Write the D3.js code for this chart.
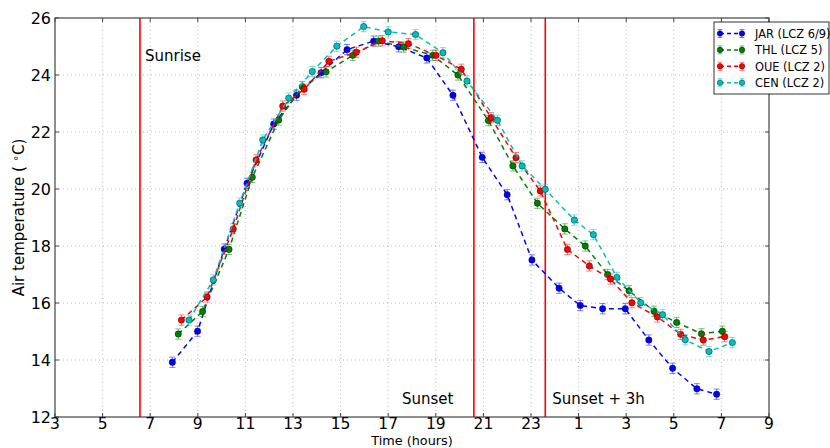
<!DOCTYPE html>
<html><head><meta charset="utf-8">
<script src="https://cdn.jsdelivr.net/npm/d3@7"></script>
<style>body{margin:0;background:#fff}svg{display:block;font-family:"DejaVu Sans",sans-serif}</style>
</head><body><svg id="c" width="830" height="448"></svg>
<script>
const xTicks=[3,5,7,9,11,13,15,17,19,21,23,25,27,29,31,33];
const yTicks=[12,14,16,18,20,22,24,26];
const seriesNames=["JAR (LCZ 6/9)","THL (LCZ 5)","OUE (LCZ 2)","CEN (LCZ 2)"];
const seriesColors=["#0000ff","#007f00","#ff0000","#00bfbf"];
const jarHour=[7.93,8.99,10.11,11.07,12.19,13.15,14.18,15.27,16.39,17.44,18.62,19.72,20.95,22.0,23.04,24.18,25.07,26.01,26.96,27.95,28.95,29.97,30.8];
const jarTemp=[13.92,15.01,17.89,20.2,22.28,23.29,24.08,24.89,25.19,24.99,24.6,23.29,21.11,19.8,17.51,16.52,15.91,15.8,15.8,14.7,13.71,12.99,12.8];
const thlHour=[8.18,9.2,10.31,11.29,12.4,13.39,14.39,15.51,16.59,17.65,18.87,19.93,21.21,22.24,23.27,24.42,25.28,26.22,27.12,28.17,29.12,30.16,31.04];
const thlTemp=[14.91,15.7,17.88,20.41,22.42,23.59,24.11,24.69,25.19,24.98,24.69,24.0,22.4,20.81,19.5,18.6,18.0,17.0,16.43,15.71,15.32,14.92,15.01];
const oueHour=[8.31,9.39,10.49,11.45,12.57,13.47,14.51,15.66,16.75,17.85,19.01,20.07,21.32,22.37,23.39,24.53,25.45,26.34,27.24,28.31,29.29,30.24,31.14];
const oueTemp=[15.4,16.21,18.6,21.02,22.91,23.5,24.48,24.8,25.2,25.1,24.69,24.2,22.5,21.1,19.93,17.88,17.3,16.84,16.01,15.51,14.9,14.7,14.82];
const cenHour=[8.63,9.65,10.76,11.73,12.82,13.81,14.84,15.97,17.0,18.15,19.3,20.31,21.59,22.63,23.6,24.82,25.62,26.61,27.61,28.53,29.48,30.48,31.46];
const cenTemp=[15.4,16.81,19.5,21.72,23.19,24.12,25.01,25.7,25.51,25.42,24.78,23.79,22.41,20.81,19.99,18.91,18.4,16.9,16.01,15.59,14.71,14.3,14.61];
const errHalf=[0.18,0.18,0.18,0.18];
const eventHours=[6.57,20.6,23.6];
const eventLabels=["Sunrise","Sunset","Sunset + 3h"];

const hours=[jarHour,thlHour,oueHour,cenHour], temps=[jarTemp,thlTemp,oueTemp,cenTemp];
const svg=d3.select("#c");
const L=55,R=769,T=18,B=417;
const x=d3.scaleLinear().domain([3,33]).range([L,R]);
const y=d3.scaleLinear().domain([12,26]).range([B,T]);

// grid
const g=svg.append("g");
g.selectAll(".gx").data(xTicks.slice(1,-1)).join("line").attr("x1",d=>x(d)).attr("x2",d=>x(d)).attr("y1",T).attr("y2",B)
 .attr("stroke","#a8a8a8").attr("stroke-width",0.8).attr("stroke-dasharray","1,3");
g.selectAll(".gy").data(yTicks.slice(1,-1)).join("line").attr("y1",d=>y(d)).attr("y2",d=>y(d)).attr("x1",L).attr("x2",R)
 .attr("stroke","#a8a8a8").attr("stroke-width",0.8).attr("stroke-dasharray","1,3");

// event lines
eventHours.forEach(h=>svg.append("line").attr("x1",x(h)).attr("x2",x(h)).attr("y1",T).attr("y2",B).attr("stroke","#ff0000").attr("stroke-width",1.6));
const labelPos=[[x(eventHours[0])+5,y(24.5)],[x(eventHours[1])-72,y(12.45)],[x(eventHours[2])+7,y(12.45)]];
eventLabels.forEach((t,i)=>svg.append("text").attr("x",labelPos[i][0]).attr("y",labelPos[i][1]).attr("font-size",15).attr("fill","#000").text(t));

// series
const line=d3.line();
function errbar(gr,cx,cy1,cy2,w){
  gr.append("line").attr("x1",cx).attr("x2",cx).attr("y1",cy1).attr("y2",cy2);
  gr.append("line").attr("x1",cx-w).attr("x2",cx+w).attr("y1",cy1).attr("y2",cy1);
  gr.append("line").attr("x1",cx-w).attr("x2",cx+w).attr("y1",cy2).attr("y2",cy2);
}
hours.forEach((hs,si)=>{
  const col=seriesColors[si];
  const pts=hs.map((h,i)=>[x(h),y(temps[si][i])]);
  svg.append("path").attr("d",line(pts)).attr("fill","none").attr("stroke",col).attr("stroke-width",1.5).attr("stroke-dasharray","5,4");
  const eg=svg.append("g").attr("stroke",col).attr("stroke-opacity",0.5).attr("stroke-width",1);
  hs.forEach((h,i)=>{
    const t=temps[si][i];
    errbar(eg,x(h),y(t+errHalf[si]),y(t-errHalf[si]),3);
  });
  svg.append("g").selectAll("circle").data(pts).join("circle").attr("cx",d=>d[0]).attr("cy",d=>d[1]).attr("r",3.2)
    .attr("fill",col).attr("stroke","#000").attr("stroke-width",0.4);
});

// frame
svg.append("rect").attr("x",L).attr("y",T).attr("width",R-L).attr("height",B-T).attr("fill","none").attr("stroke","#444").attr("stroke-width",1.2);
xTicks.forEach(v=>{svg.append("line").attr("x1",x(v)).attr("x2",x(v)).attr("y1",B).attr("y2",B-4).attr("stroke","#444");
 svg.append("line").attr("x1",x(v)).attr("x2",x(v)).attr("y1",T).attr("y2",T+4).attr("stroke","#444");});
yTicks.forEach(v=>{svg.append("line").attr("y1",y(v)).attr("y2",y(v)).attr("x1",L).attr("x2",L+4).attr("stroke","#444");
 svg.append("line").attr("y1",y(v)).attr("y2",y(v)).attr("x1",R).attr("x2",R-4).attr("stroke","#444");});
svg.append("g").selectAll("text").data(xTicks).join("text").attr("x",d=>x(d)).attr("y",B+12).attr("text-anchor","middle").attr("font-size",15.5)
 .text(d=>d>24?d-24:d);
svg.append("g").selectAll("text").data(yTicks).join("text").attr("x",L-4).attr("y",d=>y(d)+6).attr("text-anchor","end").attr("font-size",16).text(d=>d);
svg.append("text").attr("x",(L+R)/2).attr("y",444.5).attr("text-anchor","middle").attr("font-size",12.8).text("Time (hours)");
const yt=svg.append("text").attr("transform",`translate(24,${(T+B)/2}) rotate(-90)`).attr("text-anchor","middle").attr("font-size",15);
yt.append("tspan").text("Air temperature ( ");
yt.append("tspan").attr("dy",-5).attr("font-size",10).text("∘");
yt.append("tspan").attr("dy",5).text("C)");

// legend
const lg=svg.append("g");
lg.append("rect").attr("x",714).attr("y",22).attr("width",115).attr("height",72).attr("fill","#fff").attr("stroke","#000").attr("stroke-width",0.8);
seriesNames.forEach((n,i)=>{
  const yy=33.5+i*16.4, col=seriesColors[i];
  lg.append("line").attr("x1",720).attr("x2",742).attr("y1",yy).attr("y2",yy).attr("stroke",col).attr("stroke-width",1.5).attr("stroke-dasharray","4,3");
  const le=lg.append("g").attr("stroke",col).attr("stroke-opacity",0.5);
  errbar(le,720,yy-4,yy+4,2.5); errbar(le,742,yy-4,yy+4,2.5);
  [720,742].forEach(cx=>lg.append("circle").attr("cx",cx).attr("cy",yy).attr("r",2.8).attr("fill",col).attr("stroke","#000").attr("stroke-width",0.4));
  lg.append("text").attr("x",755).attr("y",yy+4.2).attr("font-size",11.4).text(n);
});
</script></body></html>
